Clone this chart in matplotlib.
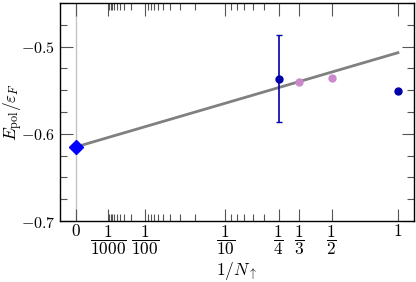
import matplotlib
matplotlib.use("Agg")
import matplotlib.pyplot as plt
import numpy as np

plt.rcParams["mathtext.fontset"] = "cm"
plt.rcParams["font.family"] = "serif"
plt.rcParams["font.serif"] = ["DejaVu Serif"]

# data (x = 1/N_up)
fit_x = [0.0, 1.0]
fit_y = [-0.615, -0.507]
extrap_x = [0.0]
extrap_y = [-0.615]
qmc_x = [1 / 4, 1.0]
qmc_y = [-0.537, -0.551]
qmc_err = [0.050, 0.0]
exact_x = [1 / 3, 1 / 2]
exact_y = [-0.541, -0.536]

major_ticks = [0, 1 / 1000, 1 / 100, 1 / 10, 1 / 4, 1 / 3, 1 / 2, 1]
major_labels = [r"$0$", r"$\dfrac{1}{1000}$", r"$\dfrac{1}{100}$", r"$\dfrac{1}{10}$",
                r"$\dfrac{1}{4}$", r"$\dfrac{1}{3}$", r"$\dfrac{1}{2}$", r"$1$"]
minor_n = list(range(200, 1000, 100)) + list(range(20, 100, 10)) + list(range(5, 10))
y_ticks = [-0.7, -0.6, -0.5]
y_labels = [r"$-0.7$", r"$-0.6$", r"$-0.5$"]

fig = plt.figure(figsize=(4.16, 2.82), dpi=100)
ax = fig.add_axes([60 / 416, 1 - 221 / 282, 354 / 416, 218 / 282])
ax.set_xscale("function", functions=(np.cbrt, lambda u: u ** 3))

ax.axvline(0, color="#c4c4c4", lw=1.0, zorder=0)
ax.plot(fit_x, fit_y, color="#808080", lw=2.0, zorder=2)
ax.plot(extrap_x, extrap_y, "D", color="#0000ff", ms=6.8, zorder=4)
ax.errorbar(qmc_x[:1], qmc_y[:1], yerr=qmc_err[:1], fmt="o", color="#0000a8",
            ms=5, lw=1.2, capsize=2, capthick=1.0, zorder=3)
ax.plot(qmc_x[1:], qmc_y[1:], "o", color="#0000a8", ms=5, zorder=3)
ax.plot(exact_x, exact_y, "o", color="#cc88cc", ms=5, zorder=3)

ax.set_xlim(-0.05 ** 3, 1.05 ** 3)
ax.set_ylim(-0.7, -0.45)
ax.set_xticks(major_ticks)
ax.set_xticklabels(major_labels, fontsize=12.5)
ax.set_xticks([1 / n for n in minor_n], minor=True)
ax.set_yticks(y_ticks)
ax.set_yticklabels(y_labels, fontsize=11.5)
ax.set_yticks(np.arange(-0.7, -0.449, 0.025), minor=True)
ax.tick_params(which="both", direction="in", top=True, right=True)
ax.tick_params(axis="x", which="major", pad=1.5)
ax.tick_params(which="major", length=9, width=0.8, color="#555555")
ax.tick_params(which="minor", length=5, width=0.8, color="#555555")
for s in ax.spines.values():
    s.set_linewidth(1.0)

ax.set_xlabel(r"$1/N_\uparrow$", fontsize=12.5)
ax.xaxis.set_label_coords(0.5, -0.178)
ax.set_ylabel(r"$E_\mathrm{pol}/\varepsilon_F$", fontsize=12.5)
ax.yaxis.set_label_coords(-0.1, 0.5)

fig.savefig("out.png", dpi=100)
